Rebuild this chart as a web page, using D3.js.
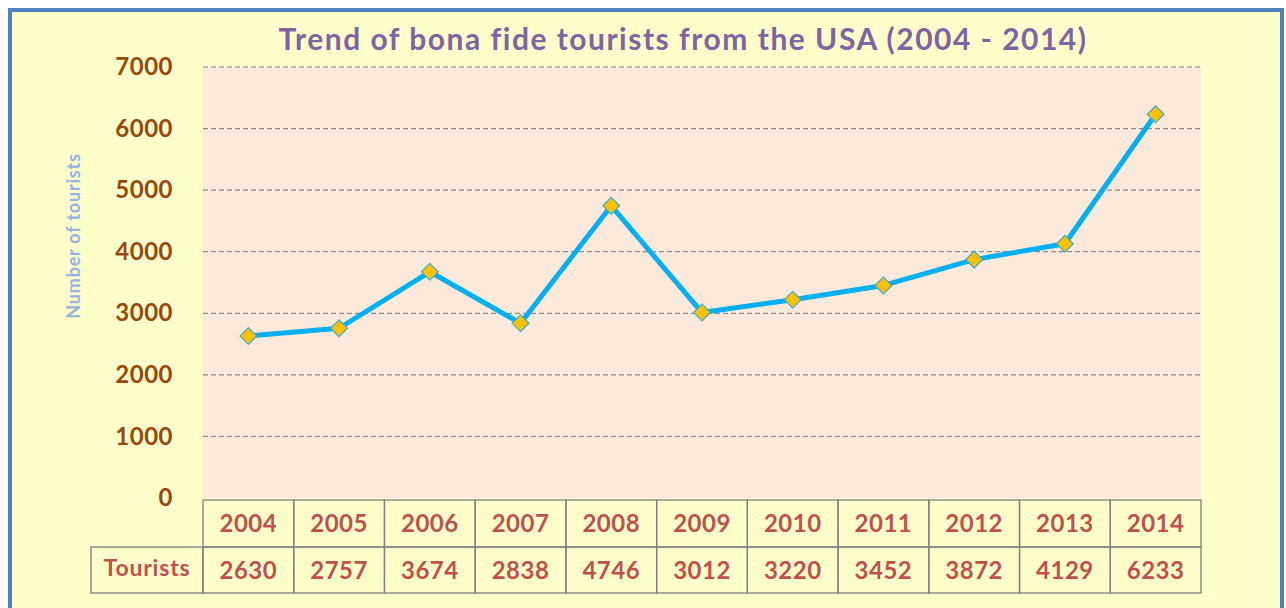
<!DOCTYPE html>
<html>
<head>
<meta charset="utf-8" />
<script src="https://d3js.org/d3.v7.min.js"></script>
<style>
  body { margin: 0; background: #fff; }
  text { font-family: Lato, "Open Sans", sans-serif; font-weight: bold; }
</style>
</head>
<body>
<svg id="chart"></svg>
<script>
// data
var years = ["2004", "2005", "2006", "2007", "2008", "2009", "2010", "2011", "2012", "2013", "2014"];
var tourists = [2630, 2757, 3674, 2838, 4746, 3012, 3220, 3452, 3872, 4129, 6233];
var yTicks = [0, 1000, 2000, 3000, 4000, 5000, 6000, 7000];

var W = 1286, H = 608;
var svg = d3.select('#chart').attr('width', W).attr('height', H);

// frame
svg.append('rect').attr('x', 10).attr('y', 10).attr('width', W - 14).attr('height', H + 10)
    .attr('fill', '#FFFFCC').attr('stroke', '#4F81BD').attr('stroke-width', 4);

var pL = 203, pR = 1201, pT = 67, pB = 498;
var x = d3.scaleBand().domain(years).range([pL, pR]);
var y = d3.scaleLinear().domain([0, 7000]).range([pB, pT]);

// plot area
svg.append('rect').attr('x', pL).attr('y', pT).attr('width', pR - pL).attr('height', pB - pT)
    .attr('fill', '#FBEADB');

// gridlines
svg.selectAll('.grid').data(yTicks.filter(function (d) { return d > 0; })).enter()
    .append('line')
    .attr('x1', pL).attr('x2', pR)
    .attr('y1', function (d) { return y(d); }).attr('y2', function (d) { return y(d); })
    .attr('stroke', '#8c8c8c').attr('stroke-width', 1.2).attr('stroke-dasharray', '5,3');

// y axis labels
var yAxis = d3.axisLeft(y).tickValues(yTicks).tickFormat(d3.format('d')).tickSize(0).tickPadding(30);
var ya = svg.append('g').attr('transform', 'translate(' + pL + ',0)').call(yAxis);
ya.select('.domain').remove();
ya.selectAll('text').attr('fill', '#984807').style('font-size', '24px')
    .style('font-family', 'Lato, sans-serif').style('font-weight', 'bold')
    .style('letter-spacing', '0.5px');

// axis title
svg.append('text').attr('transform', 'translate(80,236) rotate(-90)')
    .attr('text-anchor', 'middle').attr('fill', '#95B3E3').style('font-size', '18px')
    .style('letter-spacing', '0.8px')
    .text('Number of tourists');

// chart title
svg.append('text').attr('x', 683).attr('y', 50).attr('text-anchor', 'middle')
    .attr('fill', '#8064A2').style('font-size', '30px').style('letter-spacing', '1.5px')
    .text('Trend of bona fide tourists from the USA (2004 - 2014)');

// line
var line = d3.line()
    .x(function (d, i) { return x(years[i]) + x.bandwidth() / 2; })
    .y(function (d) { return y(d); });
svg.append('path').datum(tourists).attr('d', line)
    .attr('fill', 'none').attr('stroke', '#00B0F0').attr('stroke-width', 5).attr('stroke-linejoin', 'round');

// markers
svg.selectAll('.pt').data(tourists).enter().append('path')
    .attr('d', d3.symbol().type(d3.symbolSquare).size(140))
    .attr('transform', function (d, i) {
        return 'translate(' + (x(years[i]) + x.bandwidth() / 2) + ',' + y(d) + ') rotate(45)';
    })
    .attr('fill', '#FFC000').attr('stroke', '#4BACC6').attr('stroke-width', 1.3);

// data table
var r1 = 500, r2 = 547, r3 = 593;
var tbl = svg.append('g');
tbl.selectAll('.c1').data(years).enter().append('rect')
    .attr('x', function (d) { return x(d); }).attr('y', r1)
    .attr('width', x.bandwidth()).attr('height', r2 - r1)
    .attr('fill', 'none').attr('stroke', '#7f7f7f').attr('stroke-width', 1.3);
tbl.selectAll('.c2').data(years).enter().append('rect')
    .attr('x', function (d) { return x(d); }).attr('y', r2)
    .attr('width', x.bandwidth()).attr('height', r3 - r2)
    .attr('fill', 'none').attr('stroke', '#7f7f7f').attr('stroke-width', 1.3);
tbl.append('rect').attr('x', 91).attr('y', r2).attr('width', pL - 91).attr('height', r3 - r2)
    .attr('fill', 'none').attr('stroke', '#7f7f7f').attr('stroke-width', 1.3);

tbl.selectAll('.t1').data(years).enter().append('text')
    .attr('x', function (d) { return x(d) + x.bandwidth() / 2; }).attr('y', r1 + 32)
    .attr('text-anchor', 'middle').attr('fill', '#C0504D').style('font-size', '24px')
    .style('letter-spacing', '0.5px')
    .text(function (d) { return d; });
tbl.selectAll('.t2').data(tourists).enter().append('text')
    .attr('x', function (d, i) { return x(years[i]) + x.bandwidth() / 2; }).attr('y', r2 + 32)
    .attr('text-anchor', 'middle').attr('fill', '#C0504D').style('font-size', '24px')
    .style('letter-spacing', '0.5px')
    .text(function (d) { return d; });
tbl.append('text').attr('x', 147).attr('y', r2 + 29).attr('text-anchor', 'middle')
    .attr('fill', '#C0504D').style('font-size', '23px').style('letter-spacing', '0.8px')
    .text('Tourists');
</script>
</body>
</html>
